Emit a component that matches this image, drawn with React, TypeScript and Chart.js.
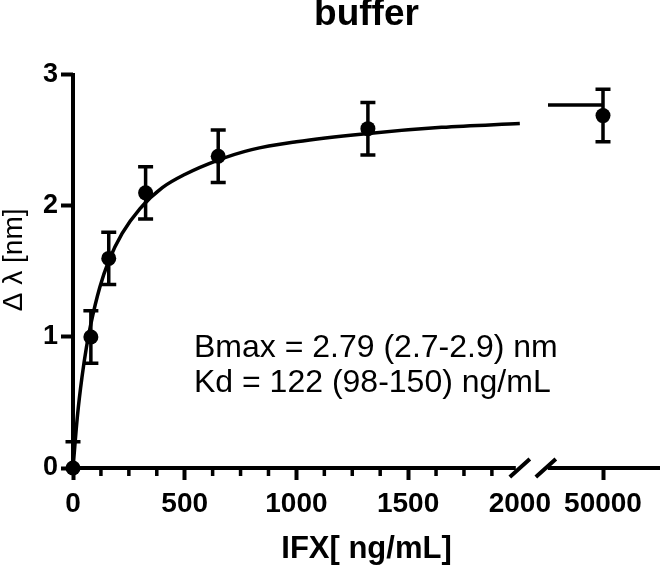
import { useEffect, useRef } from 'react';
import { Chart, registerables } from 'chart.js';

Chart.register(...registerables);

// ---- data ----
const pointX = [0, 80, 160, 325, 650, 1320];
const pointY = [0, 1.0, 1.6, 2.1, 2.38, 2.59];
const pointErr = [0.2, 0.2, 0.2, 0.2, 0.2, 0.2];

const farX = [50000];
const farY = [2.69];
const farErr = [0.2];

const curveX = [0, 20, 40, 60, 80, 120, 160, 220, 300, 400, 500, 650, 800, 1000, 1300, 1650, 2000];
const curveY = [0, 0.4, 0.69, 0.92, 1.1, 1.38, 1.58, 1.79, 1.98, 2.14, 2.24, 2.35, 2.43, 2.49, 2.55, 2.6, 2.63];

const plateauX = [44500, 50000];
const plateauY = [2.77, 2.77];

const xMajorTicks = [0, 500, 1000, 1500, 2000];
const xMinorTicks = [125, 250, 375, 625, 750, 875, 1125, 1250, 1375, 1625, 1750, 1875];
const xFarTicks = [50000];
const yTicks = [0, 1, 2, 3];

const chartTitle = 'buffer';
const xTitle = 'IFX[ ng/mL]';
const yTitle = '   Δ λ [nm]';
const fitLines = ['Bmax = 2.79 (2.7-2.9) nm', 'Kd = 122 (98-150) ng/mL'];

const FONT = '"Liberation Sans", Arial, Helvetica, sans-serif';
const BLACK = '#000';

const decor = {
  id: 'decor',
  beforeDatasetsDraw(chart: any) {
    const { ctx, scales, chartArea } = chart;
    const x1 = scales.x1;
    const x2 = scales.x2;
    const y = scales.y;
    const y0 = y.getPixelForValue(0);
    const xL = x1.getPixelForValue(0);
    const xBreak = x1.getPixelForValue(2000);
    ctx.save();
    ctx.strokeStyle = BLACK;
    ctx.lineCap = 'butt';

    // axis lines
    ctx.lineWidth = 4;
    ctx.beginPath();
    ctx.moveTo(xL, y.getPixelForValue(3) - 2);
    ctx.lineTo(xL, y0 + 2);
    ctx.moveTo(xL - 2, y0);
    ctx.lineTo(xBreak - 4, y0);
    ctx.moveTo(xBreak + 28, y0);
    ctx.lineTo(chartArea.right, y0);
    ctx.stroke();

    // break marks
    ctx.lineWidth = 4;
    ctx.beginPath();
    for (const c of [xBreak, xBreak + 26]) {
      ctx.moveTo(c - 10, y0 + 9);
      ctx.lineTo(c + 10, y0 - 9);
    }
    ctx.stroke();

    // minor ticks
    ctx.lineWidth = 3.5;
    ctx.beginPath();
    for (const v of xMinorTicks) {
      const px = x1.getPixelForValue(v);
      ctx.moveTo(px, y0);
      ctx.lineTo(px, y0 + 8);
    }
    ctx.stroke();

    // error bars
    const drawErr = (sx: any, xs: number[], ys: number[], es: number[]) => {
      for (let i = 0; i < xs.length; i++) {
        const px = sx.getPixelForValue(xs[i]);
        const lo = Math.max(ys[i] - es[i], y.min);
        const hi = Math.min(ys[i] + es[i], y.max);
        const pLo = y.getPixelForValue(lo);
        const pHi = y.getPixelForValue(hi);
        ctx.beginPath();
        ctx.moveTo(px, pLo);
        ctx.lineTo(px, pHi);
        ctx.moveTo(px - 7.5, pHi);
        ctx.lineTo(px + 7.5, pHi);
        if (ys[i] - es[i] >= y.min) {
          ctx.moveTo(px - 7.5, pLo);
          ctx.lineTo(px + 7.5, pLo);
        }
        ctx.stroke();
      }
    };
    ctx.lineWidth = 3.5;
    drawErr(x1, pointX, pointY, pointErr);
    drawErr(x2, farX, farY, farErr);
    ctx.restore();
  },
  afterDraw(chart: any) {
    const { ctx, chartArea } = chart;
    ctx.save();
    ctx.fillStyle = BLACK;
    ctx.font = `32px ${FONT}`;
    ctx.textAlign = 'left';
    ctx.textBaseline = 'alphabetic';
    fitLines.forEach((t, i) => {
      ctx.fillText(t, chartArea.left + 121, chartArea.top + 282 + i * 35);
    });
    ctx.restore();
  },
};

export default function App() {
  const ref = useRef<HTMLCanvasElement | null>(null);

  useEffect(() => {
    if (!ref.current) return;
    const xy = (xs: number[], ys: number[]) => xs.map((x, i) => ({ x, y: ys[i] }));
    const chart = new Chart(ref.current, {
      type: 'line',
      data: {
        datasets: [
          {
            data: xy(curveX, curveY),
            xAxisID: 'x1',
            yAxisID: 'y',
            borderColor: BLACK,
            borderWidth: 3.5,
            pointRadius: 0,
            cubicInterpolationMode: 'monotone',
            fill: false,
          },
          {
            data: xy(pointX, pointY),
            xAxisID: 'x1',
            yAxisID: 'y',
            showLine: false,
            pointRadius: 7.5,
            pointBackgroundColor: BLACK,
            pointBorderColor: BLACK,
            pointBorderWidth: 0,
            clip: false,
          },
          {
            data: xy(plateauX, plateauY),
            xAxisID: 'x2',
            yAxisID: 'y',
            borderColor: BLACK,
            borderWidth: 3.5,
            pointRadius: 0,
            clip: false,
          },
          {
            data: xy(farX, farY),
            xAxisID: 'x2',
            yAxisID: 'y',
            showLine: false,
            pointRadius: 7.5,
            pointBackgroundColor: BLACK,
            pointBorderColor: BLACK,
            pointBorderWidth: 0,
            clip: false,
          },
        ],
      } as any,
      options: {
        animation: false,
        responsive: false,
        events: [],
        layout: { padding: 0, autoPadding: false },
        plugins: {
          legend: { display: false },
          tooltip: { enabled: false },
          title: {
            display: true,
            text: chartTitle,
            fullSize: false,
            color: BLACK,
            font: { family: FONT, size: 37, weight: 'bold', lineHeight: 0.78 },
            padding: { top: 0, bottom: 46.1 },
          },
          subtitle: {
            display: true,
            position: 'bottom',
            text: xTitle,
            fullSize: false,
            color: BLACK,
            font: { family: FONT, size: 31, weight: 'bold', lineHeight: 1 },
            padding: { top: 0, bottom: 2 },
          },
        },
        scales: {
          x1: {
            type: 'linear',
            position: 'bottom',
            stack: 'xs',
            stackWeight: 460,
            min: 0,
            max: 2059,
            afterBuildTicks: (s: any) => {
              s.ticks = xMajorTicks.map((v) => ({ value: v }));
            },
            afterFit: (s: any) => {
              s.height = 66;
              s.paddingLeft = 0;
              s.paddingRight = 0;
            },
            border: { display: false },
            grid: {
              display: true,
              drawOnChartArea: false,
              drawTicks: true,
              tickLength: 12,
              tickWidth: 4,
              tickColor: (c: any) => (c.tick && c.tick.value === 2000 ? 'rgba(0,0,0,0)' : BLACK),
            },
            ticks: {
              autoSkip: false,
              maxRotation: 0,
              minRotation: 0,
              padding: 7,
              color: BLACK,
              font: { family: FONT, size: 28, weight: 'bold' },
              callback: (v: any) => String(v),
            },
          },
          x2: {
            type: 'linear',
            position: 'bottom',
            stack: 'xs',
            stackWeight: 127,
            min: 43000,
            max: 55700,
            afterBuildTicks: (s: any) => {
              s.ticks = xFarTicks.map((v) => ({ value: v }));
            },
            afterFit: (s: any) => {
              s.height = 66;
              s.paddingLeft = 0;
              s.paddingRight = 0;
            },
            border: { display: false },
            grid: {
              display: true,
              drawOnChartArea: false,
              drawTicks: true,
              tickLength: 12,
              tickWidth: 4,
              tickColor: BLACK,
            },
            ticks: {
              autoSkip: false,
              maxRotation: 0,
              minRotation: 0,
              padding: 7,
              color: BLACK,
              font: { family: FONT, size: 28, weight: 'bold' },
              callback: (v: any) => String(v),
            },
          },
          y: {
            type: 'linear',
            position: 'left',
            min: 0,
            max: 3,
            afterBuildTicks: (s: any) => {
              s.ticks = yTicks.map((v) => ({ value: v }));
            },
            afterFit: (s: any) => {
              s.width = 73;
              s.paddingTop = 0;
              s.paddingBottom = 0;
            },
            border: { display: false },
            grid: {
              display: true,
              drawOnChartArea: false,
              drawTicks: true,
              tickLength: 12,
              tickWidth: 4,
              tickColor: BLACK,
            },
            ticks: {
              padding: 3,
              color: BLACK,
              font: { family: FONT, size: 27, weight: 'bold' },
              callback: (v: any) => String(v),
            },
            title: {
              display: true,
              text: yTitle,
              color: BLACK,
              font: { family: FONT, size: 28, weight: 'normal', lineHeight: 1.05 },
              padding: 0,
            },
          },
        },
      } as any,
      plugins: [decor],
    });
    return () => chart.destroy();
  }, []);

  return (
    <div style={{ position: 'fixed', left: 0, top: 0, width: 660, height: 567, background: '#fff' }}>
      <canvas ref={ref} width={660} height={567} style={{ display: 'block', width: 660, height: 567 }} />
    </div>
  );
}
